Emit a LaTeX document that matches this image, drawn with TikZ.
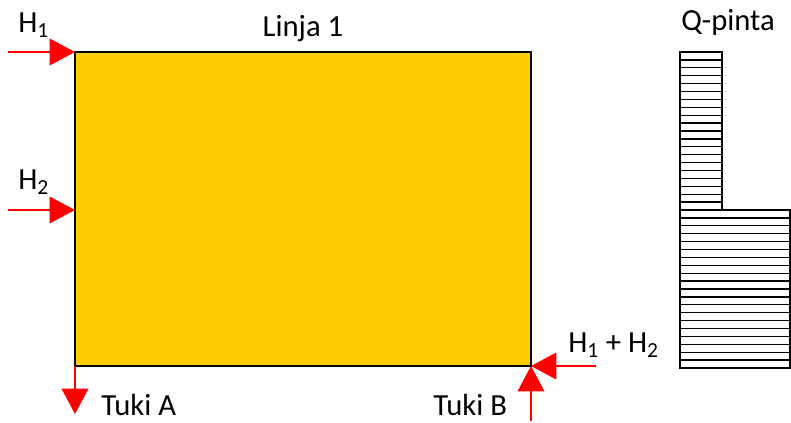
\documentclass[tikz,border=0pt]{standalone}
\usepackage{fontspec}
\setmainfont{Carlito}
\usetikzlibrary{arrows.meta}
\definecolor{laatta}{RGB}{255,204,0}
\tikzset{
  kuorma/.style={red, line width=1.1pt, -{Triangle[length=19pt,width=20pt]}},
  teksti/.style={font=\fontsize{23}{27}\selectfont, inner sep=0pt},
  viiva/.style={line width=1.1pt},
  viivoitus/.style={line width=1pt},
}
\begin{document}
\begin{tikzpicture}[x=0.75pt,y=-0.75pt]
\useasboundingbox (0,0) rectangle (791,423);
% laatta
\coordinate (nw) at (75,52);
\coordinate (ne) at (531,52);
\coordinate (sw) at (75,366);
\coordinate (se) at (531,366);
\coordinate (vk) at (75,210);
\filldraw[fill=laatta, viiva] (nw) rectangle (se);
% kuormat
\coordinate (h1a) at (8,52);
\coordinate (h2a) at (8,210);
\coordinate (ta) at (75,414);
\coordinate (tb) at (531,421);
\coordinate (ha) at (596,366);
\draw[kuorma] (h1a) -- (nw);
\draw[kuorma] (h2a) -- (vk);
\draw[kuorma] (sw) -- (ta);
\draw[kuorma] (tb) -- (se);
\draw[kuorma] (ha) -- (se);
% tekstit
\node[teksti, anchor=base west] (h1) at (18,33) {H\textsubscript{1}};
\node[teksti, anchor=base west] (h2) at (18,190) {H\textsubscript{2}};
\node[teksti, anchor=base] (linja) at (303,37) {Linja 1};
\node[teksti, anchor=base west] (tukia) at (101,415) {Tuki A};
\node[teksti, anchor=base west] (tukib) at (433,415) {Tuki B};
\node[teksti, anchor=base west] (hsum) at (568,353) {H\textsubscript{1} + H\textsubscript{2}};
\node[teksti, anchor=base west] (qp) at (681,31) {Q-pinta};
% Q-pinta
\foreach \k in {1,...,19}
  \draw[viivoitus] (680,{52+\k*7.9}) -- (722,{52+\k*7.9});
\foreach \k in {1,...,19}
  \draw[viivoitus] (680,{210+\k*7.9}) -- (790,{210+\k*7.9});
\draw[viiva] (680,52) rectangle (722,210);
\draw[viiva] (680,210) rectangle (790,368);
\end{tikzpicture}
\end{document}
